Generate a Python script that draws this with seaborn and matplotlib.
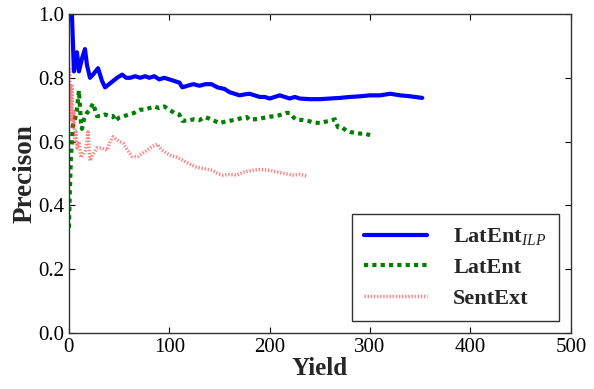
import matplotlib

matplotlib.use("Agg")
import matplotlib.pyplot as plt
import seaborn as sns

# LatEnt_ILP (solid blue)
ilp_yield = [1, 2, 3, 5, 6, 8, 10, 13, 16, 18, 21, 24, 29, 33, 36, 40, 44, 48, 53, 57,
             61, 66, 71, 76, 80, 85, 90, 95, 100, 105, 110, 113, 118, 124, 130, 136, 142,
             148, 155, 160, 165, 170, 175, 180, 185, 190, 195, 200, 205, 210, 215, 220,
             225, 230, 240, 250, 260, 270, 280, 290, 300, 310, 320, 330, 340, 352]
ilp_prec = [1.0, 1.0, 1.0, 0.82, 0.84, 0.88, 0.82, 0.86, 0.89, 0.84, 0.80, 0.81, 0.83,
            0.79, 0.77, 0.78, 0.79, 0.80, 0.81, 0.80, 0.80, 0.805, 0.80, 0.805, 0.80,
            0.805, 0.795, 0.80, 0.795, 0.79, 0.785, 0.77, 0.775, 0.78, 0.775, 0.78, 0.78,
            0.77, 0.765, 0.755, 0.75, 0.745, 0.748, 0.75, 0.745, 0.74, 0.74, 0.735, 0.74,
            0.745, 0.74, 0.735, 0.74, 0.735, 0.733, 0.733, 0.735, 0.737, 0.74, 0.742,
            0.745, 0.745, 0.75, 0.745, 0.742, 0.737]

# LatEnt (dotted green)
lat_yield = [0, 1, 2, 3, 4, 6, 8, 10, 12, 13, 15, 18, 21, 24, 26, 28, 32, 36, 40, 44, 46,
             50, 55, 60, 65, 71, 76, 80, 85, 90, 95, 100, 105, 110, 113, 120, 125, 130,
             135, 140, 145, 150, 155, 160, 165, 170, 177, 180, 185, 190, 195, 200, 205,
             210, 217, 220, 224, 227, 232, 238, 244, 250, 255, 260, 265, 268, 272, 276,
             280, 285, 290, 295, 300]
lat_prec = [0.33, 0.45, 0.55, 0.60, 0.65, 0.67, 0.70, 0.76, 0.66, 0.64, 0.67, 0.69, 0.70,
            0.72, 0.70, 0.68, 0.68, 0.685, 0.68, 0.68, 0.665, 0.675, 0.68, 0.685, 0.69,
            0.70, 0.70, 0.705, 0.71, 0.705, 0.71, 0.70, 0.69, 0.685, 0.665, 0.667, 0.67,
            0.667, 0.677, 0.672, 0.665, 0.658, 0.662, 0.665, 0.668, 0.672, 0.677, 0.668,
            0.67, 0.672, 0.675, 0.678, 0.68, 0.683, 0.69, 0.69, 0.675, 0.668, 0.668,
            0.665, 0.66, 0.658, 0.662, 0.665, 0.67, 0.645, 0.645, 0.635, 0.63, 0.628,
            0.625, 0.625, 0.62]

# SentExt (hatched red)
sent_yield = [1, 2, 3, 4, 5, 6, 7, 8, 10, 12, 14, 16, 18, 19, 21, 24, 28, 33, 38, 41, 44,
              48, 54, 58, 63, 69, 74, 78, 83, 88, 92, 97, 102, 107, 113, 120, 127, 135,
              143, 148, 153, 160, 167, 175, 183, 188, 193, 200, 207, 215, 223, 230, 237]
sent_prec = [0.83, 0.67, 0.78, 0.64, 0.70, 0.60, 0.63, 0.58, 0.60, 0.55, 0.56, 0.57, 0.60,
             0.63, 0.54, 0.56, 0.58, 0.58, 0.573, 0.60, 0.615, 0.605, 0.595, 0.575,
             0.553, 0.553, 0.565, 0.573, 0.585, 0.592, 0.575, 0.564, 0.555, 0.552, 0.542,
             0.53, 0.52, 0.515, 0.51, 0.50, 0.495, 0.497, 0.495, 0.505, 0.51, 0.512,
             0.512, 0.51, 0.505, 0.50, 0.495, 0.497, 0.492]

sns.set_style("ticks")
plt.rcParams["font.family"] = ["Liberation Serif", "DejaVu Serif"]
plt.rcParams["mathtext.fontset"] = "custom"
plt.rcParams["mathtext.it"] = "Liberation Serif:italic"
plt.rcParams["mathtext.rm"] = "Liberation Serif"

fig, ax = plt.subplots(figsize=(5.94, 3.89), dpi=100)
fig.subplots_adjust(left=0.116, right=0.961, top=0.964, bottom=0.144)

sns.lineplot(x=ilp_yield, y=ilp_prec, ax=ax, color="blue", linewidth=3,
             label="LatEnt$_{ILP}$", sort=False)
sns.lineplot(x=lat_yield, y=lat_prec, ax=ax, color="green", linewidth=3,
             linestyle=(0, (1, 1)), label="LatEnt", sort=False)
sns.lineplot(x=sent_yield, y=sent_prec, ax=ax, color="#ff3030", linewidth=2.5, alpha=0.6,
             linestyle=(0, (0.4, 0.5)), label="SentExt", sort=False)

ax.set_xlim(0, 500)
ax.set_ylim(0, 1.0)
ax.set_xticks([0, 100, 200, 300, 400, 500])
ax.set_yticks([0.0, 0.2, 0.4, 0.6, 0.8, 1.0])
ax.tick_params(direction="in", top=True, right=True, labelsize=15, length=4,
               width=0.8, colors="black")
for spine in ax.spines.values():
    spine.set_color("#333333")
    spine.set_linewidth(1.0)

ax.set_xlabel("Yield", fontsize=18, fontweight="bold", labelpad=0)
ax.set_ylabel("Precison", fontsize=19.5, fontweight="bold", labelpad=0)

leg = ax.legend(loc="lower right", prop={"weight": "bold", "size": 16},
                frameon=True, fancybox=False, handlelength=2.8, borderpad=0.55,
                labelspacing=0.45, handletextpad=1.2, borderaxespad=0.55)
leg.get_frame().set_edgecolor("black")
leg.get_frame().set_linewidth(1.0)

plt.savefig("out.png", dpi=100)
plt.close(fig)
